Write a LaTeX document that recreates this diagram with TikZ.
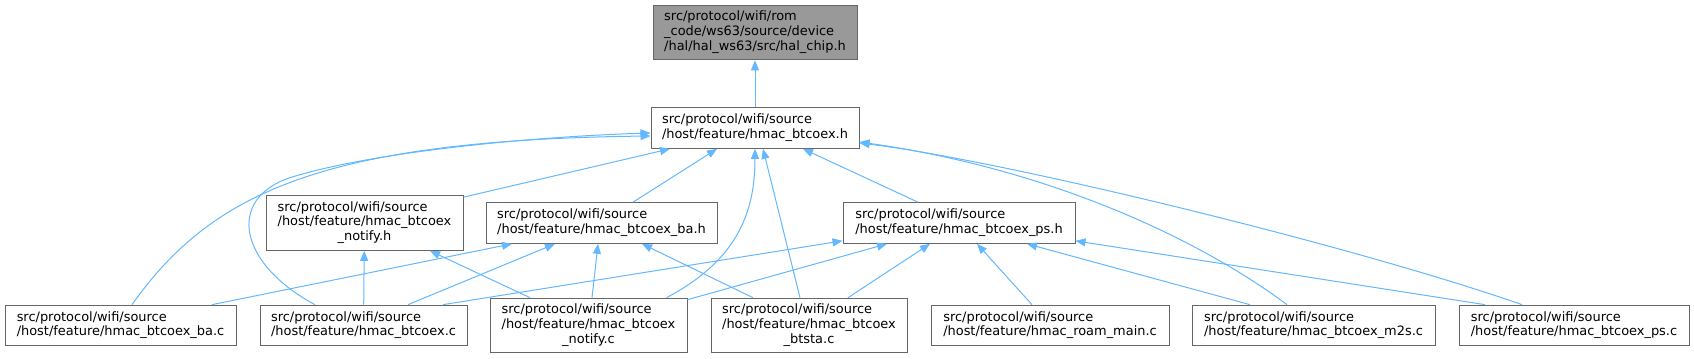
\documentclass[tikz,border=0pt]{standalone}
\usepackage{fontspec}
\setmainfont{DejaVu Sans}
\usepackage{xcolor}
\usepackage{tikz}
\usetikzlibrary{arrows.meta, calc}

\definecolor{edgeblue}{HTML}{63B8FF}
\definecolor{boxline}{HTML}{666666}
\definecolor{rootfill}{HTML}{999999}

\newcommand{\flabel}[1]{\begin{tabular}{@{}l@{}}#1\end{tabular}}
\newcommand{\lastc}[1]{\multicolumn{1}{@{}c@{}}{#1}}

\begin{document}
\begin{tikzpicture}[
    x=0.75pt, y=-0.75pt,
    file/.style={
        draw=boxline,
        fill=white,
        line width=0.75pt,
        inner sep=0pt,
        font=\fontsize{9.7}{11}\selectfont
    },
    two/.style={file, minimum height=30.5pt},
    three/.style={file, minimum height=41pt},
    root/.style={three, fill=rootfill},
    dep/.style={-{Triangle[length=7.5pt, width=6pt]}, color=edgeblue, line width=0.75pt}
]

\path[fill=white] (0,0) rectangle (1694,359);
\useasboundingbox (0,0) rectangle (1694,359);

% --- top ---
\node[root, minimum width=153pt] (halchip) at (755,32.5)
  {\flabel{src/protocol/wifi/rom\\\_code/ws63/source/device\\/hal/hal\_ws63/src/hal\_chip.h}};
\node[two, minimum width=156pt] (btcoexh) at (755,128)
  {\flabel{src/protocol/wifi/source\\/host/feature/hmac\_btcoex.h}};

% --- middle row ---
\node[three, minimum width=147.75pt] (notifyh) at (364.5,223)
  {\flabel{src/protocol/wifi/source\\/host/feature/hmac\_btcoex\\\lastc{\_notify.h}}};
\node[two, minimum width=173.25pt] (bah) at (601.5,223)
  {\flabel{src/protocol/wifi/source\\/host/feature/hmac\_btcoex\_ba.h}};
\node[two, minimum width=174pt] (psh) at (959,223)
  {\flabel{src/protocol/wifi/source\\/host/feature/hmac\_btcoex\_ps.h}};

% --- bottom row ---
\node[two, minimum width=173.25pt] (bac) at (120.5,325.5)
  {\flabel{src/protocol/wifi/source\\/host/feature/hmac\_btcoex\_ba.c}};
\node[two, minimum width=155.25pt] (btcoexc) at (363.5,325.5)
  {\flabel{src/protocol/wifi/source\\/host/feature/hmac\_btcoex.c}};
\node[three, minimum width=147.75pt] (notifyc) at (588.5,325.5)
  {\flabel{src/protocol/wifi/source\\/host/feature/hmac\_btcoex\\\lastc{\_notify.c}}};
\node[three, minimum width=147pt] (btstac) at (809,325.5)
  {\flabel{src/protocol/wifi/source\\/host/feature/hmac\_btcoex\\\lastc{\_btsta.c}}};
\node[two, minimum width=178.5pt] (roamc) at (1050,325.5)
  {\flabel{src/protocol/wifi/source\\/host/feature/hmac\_roam\_main.c}};
\node[two, minimum width=182.25pt] (m2sc) at (1313.5,325.5)
  {\flabel{src/protocol/wifi/source\\/host/feature/hmac\_btcoex\_m2s.c}};
\node[two, minimum width=172.5pt] (psc) at (1574,325.5)
  {\flabel{src/protocol/wifi/source\\/host/feature/hmac\_btcoex\_ps.c}};

% --- hal_chip.h ---
\draw[dep] (btcoexh) -- (halchip);

% --- hmac_btcoex.h ---
\draw[dep] ($(notifyh.north east)+(0,2)$) -- ($(btcoexh.south)+(-85,0)$);
\draw[dep] ($(bah.north)+(31.5,0)$) -- ($(btcoexh.south)+(-38,0)$);
\draw[dep] ($(notifyc.north)+(78,0)$) .. controls +(68,-36) and +(0,67) .. (btcoexh.south);
\draw[dep] ($(btstac.north)+(-9,0)$) -- ($(btcoexh.south)+(8,0)$);
\draw[dep] ($(psh.north)+(-41,0)$) -- ($(btcoexh.south)+(48,0)$);
\draw[dep] ($(bac.north)+(11.5,0)$) .. controls +(78,-110) and +(-331,4) .. ($(btcoexh.west)+(0,8)$);
\draw[dep] ($(btcoexc.north)+(-48.5,0)$) .. controls +(-75,-40) and +(-65,22) .. ++(-25,-127)
  .. controls +(90,-28) and +(-101,3) .. ($(btcoexh.west)+(0,5)$);
\draw[dep] ($(m2sc.north)+(-26.5,0)$) .. controls +(-87,-65) and +(191,27) .. ($(btcoexh.east)+(0,14)$);
\draw[dep] ($(psc.north)+(-52,0)$) .. controls +(-172,-60) and +(141,17) .. ($(btcoexh.east)+(0,15)$);

% --- hmac_btcoex_notify.h ---
\draw[dep] (btcoexc) -- (notifyh);
\draw[dep] ($(notifyc.north)+(-58.5,0)$) -- ($(notifyh.south)+(65.5,0)$);

% --- hmac_btcoex_ba.h ---
\draw[dep] ($(bac.north)+(91.5,0)$) -- ($(bah.south)+(-89.5,0)$);
\draw[dep] ($(btcoexc.north)+(44.5,0)$) -- ($(bah.south)+(-46.5,0)$);
\draw[dep] ($(notifyc.north)+(3.5,0)$) -- ($(bah.south)+(-3.5,0)$);
\draw[dep] ($(btstac.north)+(-56,0)$) -- ($(bah.south)+(40.5,0)$);

% --- hmac_btcoex_ps.h ---
\draw[dep] ($(btcoexc.north)+(79.5,0)$) -- ($(psh.south west)+(0,-3)$);
\draw[dep] ($(notifyc.north east)+(0,2)$) -- ($(psh.south)+(-72,0)$);
\draw[dep] ($(btstac.north)+(39,0)$) -- ($(psh.south)+(-29,0)$);
\draw[dep] ($(roamc.north)+(-18,0)$) -- ($(psh.south)+(18,0)$);
\draw[dep] ($(m2sc.north)+(-63.5,0)$) -- ($(psh.south)+(68,0)$);
\draw[dep] ($(psc.north)+(-89,0)$) -- ($(psh.south east)+(0,-3)$);

\end{tikzpicture}
\end{document}
